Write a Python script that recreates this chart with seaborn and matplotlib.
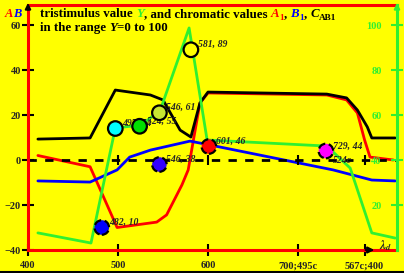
import pandas as pd
import matplotlib
matplotlib.use("Agg")
import matplotlib.pyplot as plt
from matplotlib.transforms import IdentityTransform
import seaborn as sns

# positions on the dominant-wavelength scale (beyond 700 = purple part)
c_x = [411, 469, 497, 536, 550, 569, 581, 591, 600, 732, 754, 766, 777, 782, 808]
c_val = [9.3, 9.8, 31.1, 28.9, 26.7, 13.3, 10.2, 25.3, 30.2, 29.3, 27.6, 22.2, 14.7, 9.8, 9.8]
a_x = [411, 469, 499, 543, 554, 571, 578, 591, 600, 732, 754, 766, 774, 780, 806]
a_val = [2, -3, -30, -27.6, -24.4, -11.1, -4.4, 25.3, 29.8, 28.9, 26.7, 20.9, 8.9, 1.3, 0]
b_x = [411, 469, 499, 513, 536, 580, 608, 739, 782, 808]
b_val = [-9.3, -9.8, -4.4, 1.3, 4.4, 8.4, 6.2, -4.4, -8.9, -9.3]
y_x = [411, 470, 497, 526, 547, 579, 599, 732, 758, 782, 808]
y_val = [7.6, 3.1, 54.2, 55.6, 62.2, 98.7, 48.9, 46.2, 36.4, 7.6, 5.3]

# marked colours: position, tristimulus Y, label
pt_x = [497, 524, 546, 581, 601, 731, 482, 546]
pt_Y = [54, 55, 61, 89, 46, 44, 10, 38]
pt_label = ["497, 54", "524, 55", "546, 61", "581, 89", "601, 46", "729, 44", "482, 10", "546, 38"]
pt_color = ["#00ffff", "#00e000", "#c8e632", "#ffff00", "#ff0000", "#ff00ff", "#0000ff", "#3300ff"]
pt_dashed = [False, False, False, False, True, True, True, True]

x_ticks = [400, 500, 600, 700, 774]
x_ticklabels = ["400", "500", "600", "700;495c", "567c;400"]
left_ticks = [-40, -20, 0, 20, 40, 60]
right_ticks = [20, 40, 60, 80, 100]

GREEN = "#30f030"
YEL = "#ffff00"

sns.set_style("ticks", rc={"axes.facecolor": YEL, "figure.facecolor": YEL})
plt.rcParams["font.family"] = ["Liberation Serif", "DejaVu Serif"]
plt.rcParams["font.weight"] = "bold"
plt.rcParams["mathtext.fontset"] = "stix"

fig = plt.figure(figsize=(4.04, 2.73), dpi=100)
ax = fig.add_axes([28 / 404, 23 / 273, 369 / 404, 245 / 273])
ax2 = ax.twinx()

curves = pd.concat([
    pd.DataFrame({"x": a_x, "v": a_val, "s": "A"}),
    pd.DataFrame({"x": b_x, "v": b_val, "s": "B"}),
    pd.DataFrame({"x": c_x, "v": c_val, "s": "C"}),
])
sns.lineplot(data=curves, x="x", y="v", hue="s", palette={"A": "red", "B": "blue", "C": "black"},
             estimator=None, sort=False, lw=2, legend=False, ax=ax)
sns.lineplot(x=y_x, y=y_val, color=GREEN, lw=2, estimator=None, sort=False, ax=ax2)

ax.axhline(0, color="black", lw=2, ls=(0, (3, 3)))
ax.vlines(x_ticks[1:], -2.3, 2.3, color="black", lw=1.5)

pts = pd.DataFrame({"x": pt_x, "Y": pt_Y, "c": pt_color, "d": pt_dashed})
for dashed, grp in pts.groupby("d"):
    sns.scatterplot(data=grp, x="x", y="Y", hue="c", palette={c: c for c in grp["c"]},
                    s=110, edgecolor="black", linewidth=1.6, linestyle="--" if dashed else "-",
                    legend=False, ax=ax2, zorder=5)
for x, Y, lab in zip(pt_x, pt_Y, pt_label):
    ax2.annotate(lab, (x, Y), xytext=(5, 0.5), textcoords="offset points", fontsize=7,
                 style="italic", fontweight="bold", va="bottom", ha="left")
ax2.annotate("524c", (pt_x[5], pt_Y[5]), xytext=(5, -10), textcoords="offset points", fontsize=7,
             style="italic", fontweight="bold", va="bottom", ha="left")

ax.set_xlim(400, 810)
ax.set_ylim(-40, 68.9)
ax2.set_ylim(0, 108.9)
ax.set_xticks(x_ticks, x_ticklabels)
ax.set_yticks(left_ticks)
ax2.set_yticks(right_ticks)
ax.set_xlabel("")
ax.set_ylabel("")
ax2.set_ylabel("")
ax.tick_params(axis="both", direction="inout", length=8, width=1.5, color="black", labelsize=7.5, pad=1)
ax.tick_params(axis="x", pad=4)
ax2.tick_params(axis="y", direction="inout", length=8, width=1.5, color=GREEN, labelcolor=GREEN,
                labelsize=7.5, pad=-15)
for lab in ax2.get_yticklabels():
    lab.set_horizontalalignment("right")

for side in ["left", "bottom", "top"]:
    ax.spines[side].set_color("red")
    ax.spines[side].set_linewidth(2.2)
ax.spines["right"].set_visible(False)
for side in ["left", "bottom", "top"]:
    ax2.spines[side].set_visible(False)
ax2.spines["right"].set_color(GREEN)
ax2.spines["right"].set_linewidth(2.2)

# axis arrows and lambda_d label
ax.annotate("", xy=(0, 1.02), xytext=(0, 0.97), xycoords="axes fraction",
            arrowprops=dict(arrowstyle="-|>", color="black", lw=1.5, mutation_scale=8))
ax.annotate("", xy=(1, 1.02), xytext=(1, 0.97), xycoords="axes fraction",
            arrowprops=dict(arrowstyle="-|>", color=GREEN, lw=1.5, mutation_scale=8))
ax.annotate("", xy=(788, -40), xytext=(772, -40), xycoords="data",
            arrowprops=dict(arrowstyle="-|>", color="black", lw=1.5, mutation_scale=9))
ax.text(790, -39.5, r"$\lambda_d$", fontsize=9, va="baseline", ha="left")

fig.add_artist(plt.Line2D([0, 1], [0.002, 0.002], color="black", lw=1.5, transform=fig.transFigure))


def rich(x, y, parts, size):
    r = fig.canvas.get_renderer()
    for s, color, style, sub in parts:
        fs = size * 0.72 if sub else size
        dy = -2.5 if sub else 0
        t = fig.text(x, y + dy, s, transform=IdentityTransform(), color=color, fontsize=fs,
                     fontweight="bold", fontstyle=style, va="baseline", ha="left")
        x = t.get_window_extent(r).x1


rich(5, 256, [("A", "red", "italic", False), ("B", "blue", "italic", False)], 9)
rich(40, 256, [("tristimulus value ", "black", "normal", False), ("Y", GREEN, "italic", False),
               (", and chromatic values ", "black", "normal", False),
               ("A", "red", "italic", False), ("1", "red", "normal", True),
               (", ", "black", "normal", False),
               ("B", "blue", "italic", False), ("1", "blue", "normal", True),
               (", ", "black", "normal", False),
               ("C", "black", "italic", False), ("AB1", "black", "normal", True)], 9.3)
rich(40, 242, [("in the range ", "black", "normal", False), ("Y", "black", "italic", False),
               ("=0 to 100", "black", "normal", False)], 9.3)

fig.savefig("out.png", dpi=100, facecolor=YEL)
